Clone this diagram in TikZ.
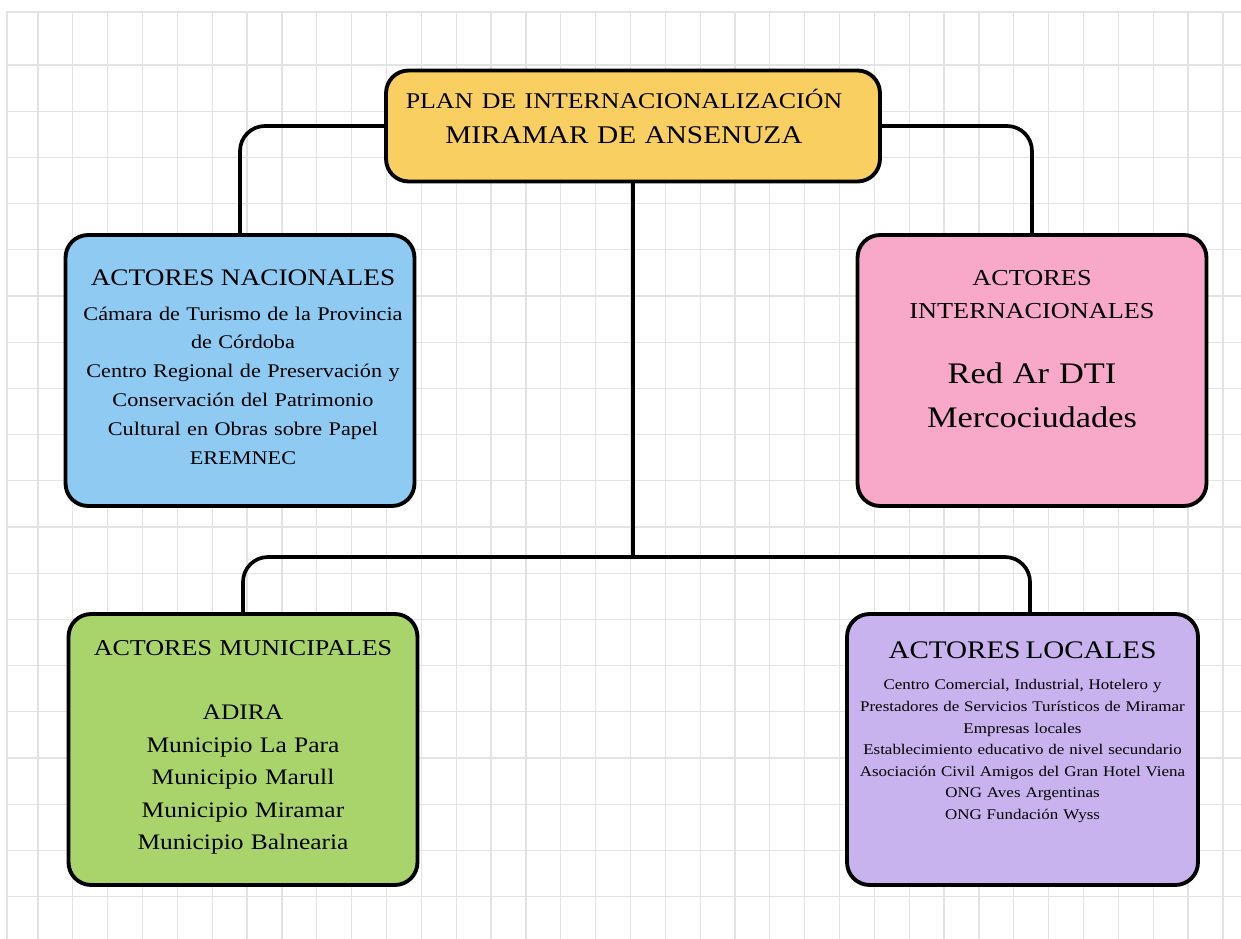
\documentclass[tikz,border=0pt]{standalone}
\usepackage{fontspec}
\setmainfont{Liberation Serif}[FakeStretch=1.15]
\usetikzlibrary{positioning}
\definecolor{amarilloPlan}{HTML}{F9CF62}
\definecolor{azulNac}{HTML}{8FCAF2}
\definecolor{rosaInt}{HTML}{F8A8C9}
\definecolor{verdeMun}{HTML}{A9D46B}
\definecolor{lilaLoc}{HTML}{C8B3EE}
\definecolor{grisRejilla}{HTML}{E3E3E3}
\tikzset{%
	caja/.style    = {draw, line width=2.2pt, rectangle, rounded corners=0.45cm,
		inner sep=0pt, minimum width=6.98cm, minimum height=5.42cm},
	texto/.style   = {align=center, inner sep=0pt, text width=6.9cm}, % texto de caja
	linea/.style   = {line width=2.1pt, rounded corners=0.5cm},
	rejilla/.style = {draw=grisRejilla, line width=0.7pt}
}

\begin{document}
\begin{tikzpicture}[x=0.02cm, y=-0.02cm]
			\useasboundingbox (0,0) rectangle (1241,939);
			% rejilla de fondo
			\foreach \i in {0,...,34}
				\draw[rejilla] ({38+34.85*\i},12) -- ({38+34.85*\i},939);
			\foreach \j in {0,...,18}
				\draw[rejilla] (7,{65+46.2*\j}) -- (1241,{65+46.2*\j});
			\draw[rejilla] (7,939) |- (1241,12);

			% cajas
			\node[caja, fill=amarilloPlan, minimum width=9.88cm, minimum height=2.22cm] (plan) at (633,126) {};
			\node[caja, fill=azulNac]  (nacional)      at (240,370.5) {};
			\node[caja, fill=rosaInt]  (internacional) at (1032,370.5) {};
			\node[caja, fill=verdeMun] (municipal)     at (243,749.5) {};
			\node[caja, fill=lilaLoc, minimum width=7.02cm] (local) at (1022.5,749.5) {};

			% textos
			\node[texto, text width=9.6cm, font=\fontsize{14.5pt}{20.4pt}\selectfont] (planTxt)
				at ([xshift=-0.18cm, yshift=0.19cm]plan.center)
				{\fontsize{12.8pt}{20.4pt}\selectfont PLAN DE INTERNACIONALIZACIÓN\\
				 \fontsize{14.5pt}{20.4pt}\selectfont MIRAMAR DE ANSENUZA};
			\node[texto, font=\fontsize{11pt}{16.4pt}\selectfont] (nacionalTxt)
				at ([xshift=0.06cm, yshift=0.07cm]nacional.center)
				{\fontsize{13.5pt}{16.4pt}\selectfont ACTORES NACIONALES\\[3.4pt]
				 \fontsize{11pt}{16.4pt}\selectfont Cámara de Turismo de la Provincia\\
				 de Córdoba\\
				 Centro Regional de Preservación y\\
				 Conservación del Patrimonio\\
				 Cultural en Obras sobre Papel\\
				 EREMNEC};
			\node[texto, font=\fontsize{17pt}{18.7pt}\selectfont] (internacionalTxt)
				at ([yshift=0.43cm]internacional.center)
				{\fontsize{13pt}{18.7pt}\selectfont ACTORES\\
				 INTERNACIONALES\\[18.7pt]
				 \fontsize{17pt}{18.7pt}\selectfont Red Ar DTI\\[6.3pt]
				 Mercociudades};
			\node[texto, font=\fontsize{12.6pt}{18.5pt}\selectfont] (municipalTxt)
				at ([yshift=0.04cm]municipal.center)
				{\fontsize{12.9pt}{18.5pt}\selectfont ACTORES MUNICIPALES\\[17.8pt]
				 \fontsize{12.6pt}{18.5pt}\selectfont ADIRA\\
				 Municipio La Para\\
				 Municipio Marull\\
				 Municipio Miramar\\
				 Municipio Balnearia};
			\node[texto, font=\fontsize{8.4pt}{12.3pt}\selectfont] (localTxt)
				at ([yshift=0.35cm]local.center)
				{\fontsize{14.4pt}{12.3pt}\selectfont ACTORES LOCALES\\[5.8pt]
				 \fontsize{8.4pt}{12.3pt}\selectfont Centro Comercial, Industrial, Hotelero y\\
				 Prestadores de Servicios Turísticos de Miramar\\
				 Empresas locales\\
				 Establecimiento educativo de nivel secundario\\
				 Asociación Civil Amigos del Gran Hotel Viena\\
				 ONG Aves Argentinas\\
				 ONG Fundación Wyss};

			% conectores
			\coordinate (nudo) at (631,557);
			\draw[linea] (plan.west) -| (nacional.north);
			\draw[linea] (plan.east) -| (internacional.north);
			\draw[linea] (plan.south) -- (plan.south |- nudo);
			\draw[linea] (municipal.north) |- (nudo) -| ([xshift=0.15cm]local.north);
		\end{tikzpicture}
\end{document}
